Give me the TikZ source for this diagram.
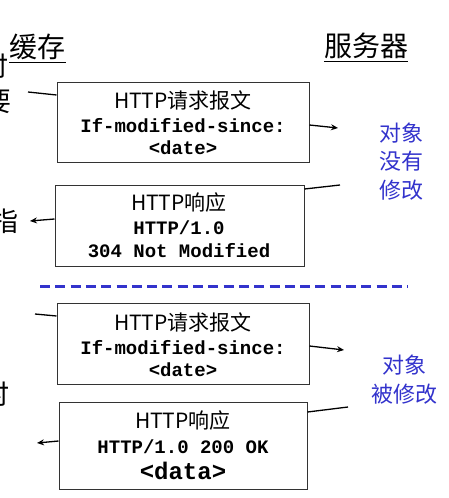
\documentclass[tikz,border=0pt]{standalone}
\usepackage{fontspec}
\setmainfont{Liberation Sans}
\newfontfamily\cjk{Noto Sans CJK SC}
\newfontfamily\codefont{Liberation Mono}
\usetikzlibrary{arrows.meta}
\definecolor{labelblue}{RGB}{51,51,204}
\tikzset{
  msgbox/.style={draw=black!80, line width=1pt, inner sep=0pt},
  headtxt/.style={inner sep=0pt, font=\cjk\fontsize{28}{32}\selectfont},
  cuttxt/.style={inner sep=0pt, font=\cjk\fontsize{27}{30}\selectfont},
  titletxt/.style={inner sep=0pt, font=\cjk\fontsize{21}{25}\selectfont},
  codetxt/.style={inner sep=0pt, font=\codefont\bfseries\fontsize{19}{23}\selectfont},
  bluetxt/.style={inner sep=0pt, align=center, text=labelblue},
  msgline/.style={line width=1.3pt},
  msgarrow/.style={line width=1.3pt, -{Stealth[length=7pt,width=6pt]}},
}

\begin{document}
\begin{tikzpicture}[x=1pt,y=1pt,yscale=-1,xscale=1]
    \useasboundingbox (0,0) rectangle (448,498);
    % column heads
    \draw (37.5,47) node [headtxt] (cache) {缓存};
    \draw (366,46) node [headtxt] (server) {服务器};
    \draw ([yshift=2pt]cache.south west) -- ([yshift=2pt]cache.south east);
    \draw ([yshift=2pt]server.south west) -- ([yshift=2pt]server.south east);
    % left text, cut off by the border
    \draw (-5,66) node [cuttxt] (cutA) {时};
    \draw (-2,102) node [cuttxt] (cutB) {要};
    \draw (5,221) node [cuttxt] (cutC) {指};
    \draw (-4,394) node [cuttxt] (cutD) {时};
    % not modified
    \draw (183,122) node [msgbox, minimum width=252, minimum height=80] (req1) {};
    \draw (183,100) node [titletxt] (req1a) {HTTP请求报文};
    \draw (183,125.5) node [codetxt] (req1b) {If-modified-since:};
    \draw (183,147.5) node [codetxt] (req1c) {<date>};
    \draw (179.5,225.5) node [msgbox, minimum width=249, minimum height=81] (resp1) {};
    \draw (179,203) node [titletxt] (resp1a) {HTTP响应};
    \draw (179,227.5) node [codetxt] (resp1b) {HTTP/1.0};
    \draw (179,250.5) node [codetxt] (resp1c) {304 Not Modified};
    \draw (401.5,161.5) node [bluetxt, font=\cjk\fontsize{22}{28.5}\selectfont] (same) {对象\\没有\\修改};
    \coordinate (in1) at (28,92);
    \coordinate (out1) at (338,128);
    \coordinate (in2) at (340,185);
    \coordinate (out2) at (30,221);
    \draw [msgline] (in1) -- ([yshift=-27pt]req1.west);
    \draw [msgarrow] ([yshift=3pt]req1.east) -- (out1);
    \draw [msgline] (in2) -- ([yshift=-36.5pt]resp1.east);
    \draw [msgarrow] ([yshift=-6.5pt]resp1.west) -- (out2);
    % divider
    \draw [labelblue, line width=3pt, dash pattern=on 10pt off 5.3pt] (40,286) -- (408,286);
    % modified
    \draw (183,343.5) node [msgbox, minimum width=252, minimum height=81] (req2) {};
    \draw (183,322) node [titletxt] (req2a) {HTTP请求报文};
    \draw (183,347.5) node [codetxt] (req2b) {If-modified-since:};
    \draw (183,369.5) node [codetxt] (req2c) {<date>};
    \draw (183,445.5) node [msgbox, minimum width=248, minimum height=87] (resp2) {};
    \draw (183,421) node [titletxt] (resp2a) {HTTP响应};
    \draw (183,446.5) node [codetxt] (resp2b) {HTTP/1.0 200 OK};
    \draw (183,471) node [codetxt, font=\codefont\bfseries\fontsize{24}{28}\selectfont] (resp2c) {<data>};
    \draw (404,379.5) node [bluetxt, font=\cjk\fontsize{22}{29}\selectfont] (changed) {对象\\被修改};
    \coordinate (in3) at (35,314);
    \coordinate (out3) at (344,350);
    \coordinate (in4) at (348,407);
    \coordinate (out4) at (37,443);
    \draw [msgline] (in3) -- ([yshift=-27.5pt]req2.west);
    \draw [msgarrow] ([yshift=2.5pt]req2.east) -- (out3);
    \draw [msgline] (in4) -- ([yshift=-33.5pt]resp2.east);
    \draw [msgarrow] ([yshift=-4.5pt]resp2.west) -- (out4);
\end{tikzpicture}
\end{document}
